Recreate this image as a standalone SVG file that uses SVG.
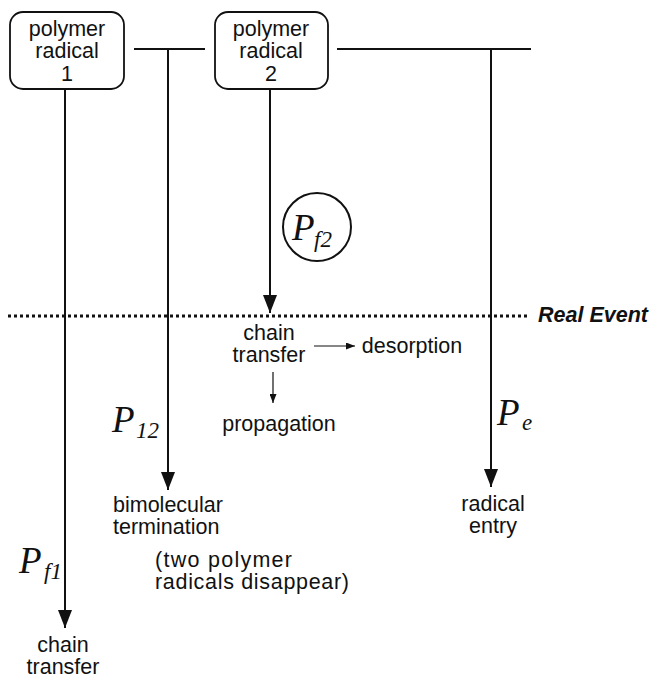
<svg xmlns="http://www.w3.org/2000/svg" width="654" height="678" viewBox="0 0 654 678">
<defs>
<style>
.t{font-family:"Liberation Sans",Arial,Helvetica,sans-serif;font-size:21.5px;fill:#111;text-anchor:middle}
.l{text-anchor:start}
.box{fill:#fff;stroke:#111;stroke-width:1.8}
.ln{stroke:#111;stroke-width:2;fill:none}
.sm{stroke:#111;stroke-width:1.2;fill:none}
.m{font-family:"Liberation Serif","Times New Roman",serif;font-style:italic;fill:#111}
.P{font-size:37px}
.s{font-size:23px}
.re{font-family:"Liberation Sans",Arial,sans-serif;font-size:21.5px;font-weight:bold;font-style:italic;fill:#111}
</style>
<marker id="big" markerUnits="userSpaceOnUse" markerWidth="18" markerHeight="14" refX="18" refY="7" orient="auto">
<path d="M0,0 L18,7 L0,14 z" fill="#111"/>
</marker>
<marker id="small" markerUnits="userSpaceOnUse" markerWidth="9" markerHeight="7" refX="9" refY="3.5" orient="auto">
<path d="M0,0 L9,3.5 L0,7 z" fill="#111"/>
</marker>
</defs>
<rect width="654" height="678" fill="#fff"/>

<g id="connectors">
<line class="ln" x1="65" y1="89" x2="65" y2="628" marker-end="url(#big)"/>
<line class="ln" x1="134" y1="49" x2="205" y2="49"/>
<line class="ln" x1="168" y1="49" x2="168" y2="490" marker-end="url(#big)"/>
<line class="ln" x1="270" y1="89" x2="270" y2="313" marker-end="url(#big)"/>
<line class="ln" x1="337" y1="49" x2="531" y2="49"/>
<line class="ln" x1="491" y1="49" x2="491" y2="487" marker-end="url(#big)"/>
<line class="sm" x1="314" y1="346" x2="355" y2="346" marker-end="url(#small)"/>
<line class="sm" x1="273" y1="372" x2="273" y2="403" marker-end="url(#small)"/>
<line x1="8" y1="316" x2="530" y2="316" stroke="#111" stroke-width="3" stroke-dasharray="3,3"/>
</g>

<g id="radical1">
<rect class="box" x="10" y="12" width="114" height="77" rx="13"/>
<text class="t" x="67" y="36">polymer</text>
<text class="t" x="67" y="58">radical</text>
<text class="t" x="67" y="81">1</text>
</g>

<g id="radical2">
<rect class="box" x="215" y="12" width="113" height="77" rx="13"/>
<text class="t" x="271" y="36">polymer</text>
<text class="t" x="271" y="58">radical</text>
<text class="t" x="271" y="81">2</text>
</g>

<g id="pf2">
<circle cx="317" cy="227" r="34" fill="#fff" stroke="#111" stroke-width="2"/>
<text class="m P" x="292" y="240">P</text>
<text class="m s" x="314" y="247">f2</text>
</g>

<g id="realevent">
<text class="re" x="538" y="322">Real Event</text>
</g>

<g id="chaintransfer2">
<text class="t" x="269" y="340">chain</text>
<text class="t" x="269" y="362">transfer</text>
</g>

<g id="desorption">
<text class="t" x="412" y="353">desorption</text>
</g>

<g id="propagation">
<text class="t" x="279" y="431">propagation</text>
</g>

<g id="p12">
<text class="m P" x="112" y="432">P</text>
<text class="m s" x="136" y="438">12</text>
</g>

<g id="pe">
<text class="m P" x="497" y="425">P</text>
<text class="m s" x="522" y="430">e</text>
</g>

<g id="pf1">
<text class="m P" x="19" y="573">P</text>
<text class="m s" x="44" y="579">f1</text>
</g>

<g id="bimolecular">
<text class="t l" x="113" y="512">bimolecular</text>
<text class="t l" x="113" y="534">termination</text>
<text class="t l" x="155" y="567" textLength="137" lengthAdjust="spacing">(two polymer</text>
<text class="t l" x="155" y="589" textLength="194" lengthAdjust="spacing">radicals disappear)</text>
</g>

<g id="entry">
<text class="t" x="493" y="511">radical</text>
<text class="t" x="493" y="533">entry</text>
</g>

<g id="chaintransfer1">
<text class="t" x="63" y="652">chain</text>
<text class="t" x="63" y="674">transfer</text>
</g>
</svg>
